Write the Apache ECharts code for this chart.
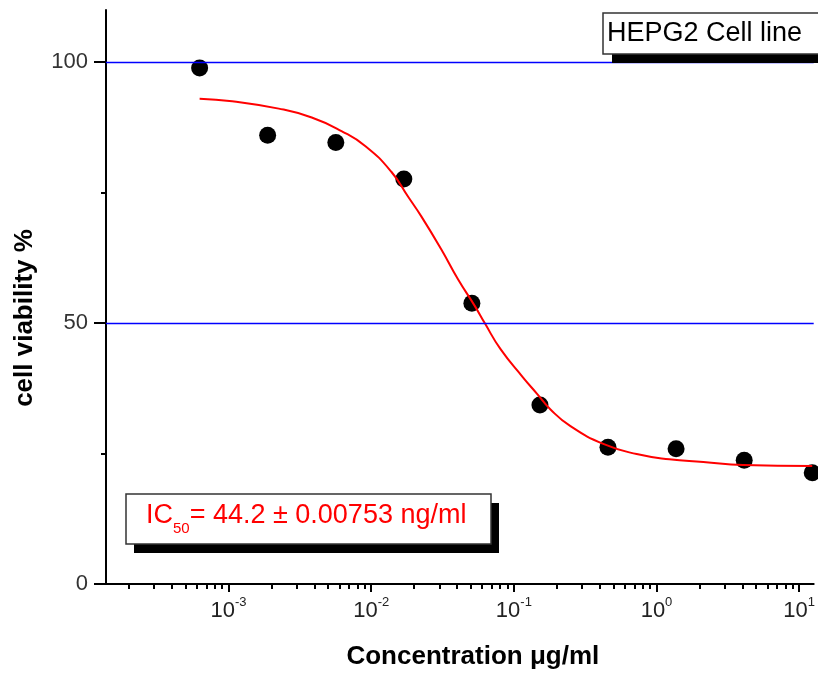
<!DOCTYPE html>
<html>
<head>
<meta charset="utf-8">
<script src="https://cdn.jsdelivr.net/npm/echarts@6/dist/echarts.min.js"></script>
<style>
  html, body { margin: 0; padding: 0; background: #fff; }
  #chart { width: 818px; height: 675px; }
</style>
</head>
<body>
<div id="chart"></div>
<script>
// measured points (ug/ml, % viability)
var concentration = [0.000627, 0.00188, 0.00565, 0.01694, 0.0508, 0.1524, 0.457, 1.372, 4.12, 12.35];
var viability = [98.9, 86.0, 84.6, 77.6, 53.8, 34.3, 26.2, 25.9, 23.7, 21.3];

// fitted curve
var fitConc = [0.000627, 0.00106, 0.00225, 0.00383, 0.00619, 0.00912, 0.01384, 0.01816, 0.0224, 0.0309,
  0.0406, 0.0532, 0.0625, 0.0807, 0.115, 0.146, 0.180, 0.248, 0.428, 0.726, 1.23, 2.13, 4.04, 12.35];
var fitViability = [93.0, 92.5, 91.1, 89.4, 86.8, 83.9, 79.0, 74.2, 70.5, 64.2,
  58.4, 53.3, 50.0, 45.0, 39.7, 36.4, 33.5, 30.3, 26.8, 24.9, 23.9, 23.4, 22.8, 22.6];

var decades = [-3, -2, -1, 0, 1];
var yMajor = [0, 50, 100];
var yMinor = [25, 75];
var refLines = [50, 100];

var xMin = -3.859, xMax = 1.102;
var font = "'Liberation Sans', Arial, sans-serif";

// log-spaced minor ticks (2..9 x 10^n)
var minorTicks = [];
for (var n = -4; n <= 1; n++) {
  for (var k = 2; k <= 9; k++) {
    var v = Math.log10(k) + n;
    if (v > xMin && v < xMax) minorTicks.push(v);
  }
}

var points = [];
for (var i = 0; i < concentration.length; i++) {
  points.push([Math.log10(concentration[i]), viability[i]]);
}
var curve = [];
for (var i = 0; i < fitConc.length; i++) {
  curve.push([Math.log10(fitConc[i]), fitViability[i]]);
}

var myChart = echarts.init(document.getElementById('chart'));

var option = {
  animation: false,
  backgroundColor: '#fff',
  grid: { left: 106, top: 10, right: 0, bottom: 90, containLabel: false },
  xAxis: [
    {
      type: 'value', min: xMin, max: xMax, position: 'bottom',
      axisLine: { show: true, onZero: false, lineStyle: { color: '#000', width: 2 } },
      axisTick: { show: true, length: 8, customValues: decades, lineStyle: { color: '#000', width: 2 } },
      axisLabel: {
        customValues: decades, margin: 12,
        formatter: function (v) { return '{b|10}{s|' + v + '}'; },
        rich: {
          b: { fontFamily: font, fontSize: 22, color: '#222', verticalAlign: 'bottom', lineHeight: 26 },
          s: { fontFamily: font, fontSize: 13, color: '#222', verticalAlign: 'top', lineHeight: 26 }
        }
      },
      splitLine: { show: false },
      name: 'Concentration \u03bcg/ml', nameLocation: 'middle', nameGap: 60,
      nameTextStyle: { fontFamily: font, fontSize: 26, fontWeight: 'bold', color: '#000', padding: [0, 0, 0, 26] }
    },
    {
      type: 'value', min: xMin, max: xMax, position: 'bottom',
      axisLine: { show: false, onZero: false },
      axisTick: { show: true, length: 5, customValues: minorTicks, lineStyle: { color: '#000', width: 2 } },
      axisLabel: { show: false },
      splitLine: { show: false }
    }
  ],
  yAxis: [
    {
      type: 'value', min: 0, max: 110, position: 'left',
      axisLine: { show: true, onZero: false, lineStyle: { color: '#000', width: 2 } },
      axisTick: { show: true, length: 12, customValues: yMajor, lineStyle: { color: '#000', width: 2 } },
      axisLabel: { customValues: yMajor, fontFamily: font, fontSize: 22, color: '#333', margin: 18 },
      splitLine: { show: false },
      name: 'cell viability %', nameLocation: 'middle', nameGap: 68,
      nameTextStyle: { fontFamily: font, fontSize: 26, fontWeight: 'bold', color: '#000', padding: [0, 42, 0, 0] }
    },
    {
      type: 'value', min: 0, max: 110, position: 'left',
      axisLine: { show: false, onZero: false },
      axisTick: { show: true, length: 5, customValues: yMinor, lineStyle: { color: '#000', width: 2 } },
      axisLabel: { show: false },
      splitLine: { show: false }
    }
  ],
  series: [
    {
      type: 'scatter', xAxisIndex: 0, yAxisIndex: 0,
      data: points, symbolSize: 17,
      itemStyle: { color: '#000', opacity: 1 },
      markLine: {
        silent: true, symbol: ['none', 'none'], label: { show: false },
        lineStyle: { color: '#0000ff', width: 1.3, type: 'solid' },
        data: refLines.map(function (v) { return { yAxis: v }; })
      }
    },
    {
      type: 'line', xAxisIndex: 0, yAxisIndex: 0,
      data: curve, smooth: true, showSymbol: false,
      lineStyle: { color: '#ff0000', width: 2 }
    }
  ],
  graphic: [
    { type: 'rect', z: 100, shape: { x: 612, y: 22, width: 230, height: 41 }, style: { fill: '#000' } },
    { type: 'rect', z: 101, shape: { x: 603, y: 13, width: 230, height: 41 }, style: { fill: '#fff', stroke: '#333', lineWidth: 1.5 } },
    { type: 'text', z: 102, x: 607, y: 34, style: { text: 'HEPG2 Cell line', fontFamily: font, fontSize: 27, fill: '#000', verticalAlign: 'middle' } },
    { type: 'rect', z: 100, shape: { x: 134, y: 503, width: 365, height: 50 }, style: { fill: '#000' } },
    { type: 'rect', z: 101, shape: { x: 126, y: 494, width: 365, height: 50 }, style: { fill: '#fff', stroke: '#333', lineWidth: 1.5 } },
    {
      type: 'text', z: 102, x: 146, y: 519,
      style: {
        text: '{a|IC}{sub|50}{a|= 44.2 \u00b1 0.00753 ng/ml}',
        verticalAlign: 'middle',
        rich: {
          a: { fontFamily: font, fontSize: 27, fill: '#ff0000', verticalAlign: 'top', lineHeight: 34 },
          sub: { fontFamily: font, fontSize: 15, fill: '#ff0000', verticalAlign: 'bottom', lineHeight: 34 }
        }
      }
    }
  ]
};

myChart.setOption(option);
</script>
</body>
</html>
